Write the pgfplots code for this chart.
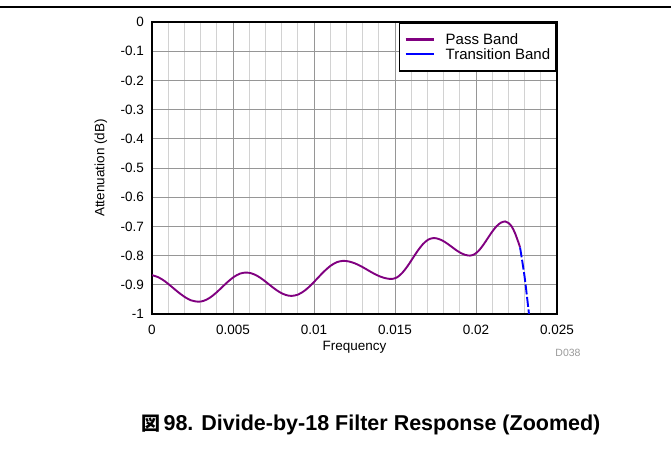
\documentclass[border=0pt]{standalone}
\usepackage{pgfplots}
\pgfplotsset{compat=1.18}
\usepackage{fontspec}
\setmainfont{Liberation Sans}
\newfontfamily\cjk{Noto Sans CJK JP}
\definecolor{majgrid}{RGB}{150,150,150}
\definecolor{mingrid}{RGB}{210,210,210}
\definecolor{passc}{RGB}{128,0,128}
\definecolor{transc}{RGB}{0,0,255}
\begin{document}
\begin{tikzpicture}
\path[use as bounding box] (0,0) rectangle (671bp,451bp);
\draw[line width=1.5bp] (0,444bp) -- (671bp,444bp);
\begin{axis}[
  at={(152bp,137bp)}, anchor=south west,
  scale only axis, width=405bp, height=292bp,
  xmin=0, xmax=0.025, ymin=-1, ymax=0,
  scaled x ticks=false, scaled y ticks=false,
  xtick={0,0.005,0.01,0.015,0.02,0.025},
  xticklabels={0,0.005,0.01,0.015,0.02,0.025},
  ytick={-1,-0.9,-0.8,-0.7,-0.6,-0.5,-0.4,-0.3,-0.2,-0.1,0},
  yticklabels={-1,-0.9,-0.8,-0.7,-0.6,-0.5,-0.4,-0.3,-0.2,-0.1,0},
  minor x tick num=4,
  major tick length=0pt, minor tick length=0pt,
  xmajorgrids, xminorgrids, ymajorgrids,
  major grid style={majgrid, line width=0.75bp},
  minor grid style={mingrid, line width=0.75bp},
  axis line style={black, line width=1.6bp},
  tick label style={font=\fontsize{13.5bp}{16bp}\selectfont},
  xticklabel style={inner sep=0pt, yshift=-11bp},
  yticklabel style={inner sep=0pt, xshift=-8bp},
  label style={font=\fontsize{13.5bp}{16bp}\selectfont},
  xlabel={Frequency},
  xlabel style={at={(axis description cs:0.5,-0.115)}, anchor=center},
  ylabel={Attenuation (dB)},
  ylabel style={at={(axis description cs:-0.126,0.5)}, anchor=center},
  legend style={at={(1,1)}, anchor=north east, draw=black, /tikz/line width=1.6bp,
    font=\fontsize{15bp}{17bp}\selectfont, cells={anchor=west},
    inner xsep=5bp, inner ysep=9.5bp, row sep=0.5bp, column sep=10bp,
    nodes={inner sep=1bp}},
]
\addplot[passc, line width=1.9bp, smooth,
  legend image code/.code={\draw[passc, solid, line width=2.3bp] (0bp,0bp) -- (28bp,0bp);}] coordinates {
(0,-0.867) (0.0004,-0.8744) (0.0008,-0.8881) (0.0012,-0.9059) (0.0016,-0.9245)
(0.0020,-0.9409) (0.0024,-0.9530) (0.00286,-0.958)
(0.0032275,-0.9542) (0.003595,-0.9434) (0.0039625,-0.9271) (0.00433,-0.908)
(0.0046975,-0.8889) (0.005065,-0.8726) (0.0054325,-0.8618) (0.0058,-0.858)
(0.0061525,-0.8610) (0.006505,-0.8697) (0.0068575,-0.8827) (0.00721,-0.898)
(0.0075625,-0.9133) (0.007915,-0.9263) (0.0082675,-0.9350) (0.00862,-0.938)
(0.0090175,-0.9334) (0.009415,-0.9204) (0.0098125,-0.9010) (0.01021,-0.878)
(0.0106075,-0.8550) (0.011005,-0.8356) (0.0114025,-0.8226) (0.0118,-0.818)
(0.012175,-0.8204) (0.01255,-0.8271) (0.012925,-0.8371) (0.0133,-0.849)
(0.013675,-0.8609) (0.01405,-0.8709) (0.014425,-0.8776) (0.0148,-0.880)
(0.015121,-0.8747) (0.015443,-0.8595) (0.015764,-0.8368) (0.016085,-0.810)
(0.016406,-0.7832) (0.016728,-0.7605) (0.017049,-0.7453) (0.01737,-0.740)
(0.017653,-0.7423) (0.017935,-0.7488) (0.018218,-0.7585) (0.0185,-0.770)
(0.018783,-0.7815) (0.019065,-0.7912) (0.019348,-0.7977) (0.01963,-0.800)
(0.019901,-0.7955) (0.020173,-0.7829) (0.020444,-0.7639) (0.020715,-0.7415)
(0.020986,-0.7191) (0.021258,-0.7001) (0.021529,-0.6875) (0.0218,-0.683)
(0.0220,-0.688) (0.0222,-0.700) (0.0224,-0.722) (0.0226,-0.752) (0.02272,-0.772)
};
\addlegendentry{Pass Band}
\addplot[transc, line width=1.9bp, dash pattern=on 10bp off 2.5bp, smooth,
  legend image code/.code={\draw[transc, solid, line width=2.3bp] (0bp,0bp) -- (28bp,0bp);}] coordinates {
(0.02272,-0.772) (0.0230,-0.873) (0.02327,-1.0)
};
\addlegendentry{Transition Band}
\end{axis}
\node[anchor=base, text=black!40, font=\fontsize{10.5bp}{12bp}\selectfont] at (568bp,94bp) {D038};
\node[anchor=base, font=\fontsize{21.5bp}{24bp}\selectfont\bfseries] at (371bp,21bp) {{\cjk\fontsize{19bp}{24bp}\selectfont 図}\hspace{3bp}98. Divide-by-18 Filter Response (Zoomed)};
\end{tikzpicture}
\end{document}
